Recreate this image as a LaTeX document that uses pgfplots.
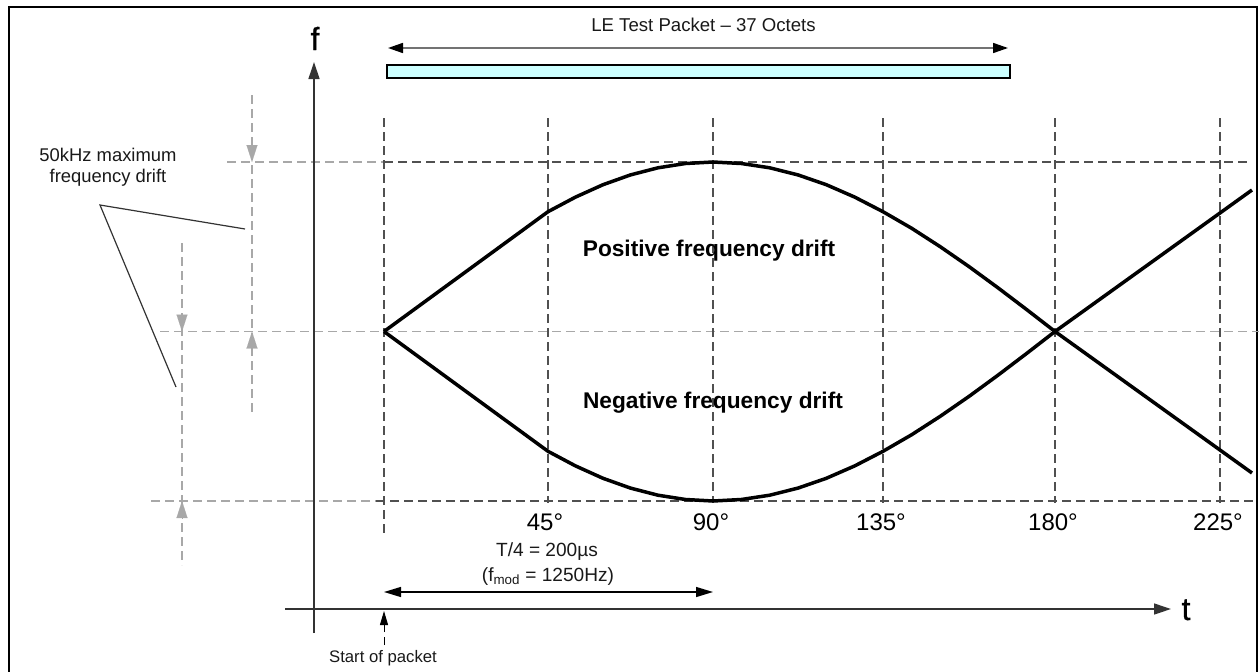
\documentclass[border=0pt]{standalone}
\usepackage{fontspec}
\setmainfont{Liberation Sans}
\newfontfamily\heavy[FakeBold=0.8]{Liberation Sans}
\usepackage{pgfplots}
\pgfplotsset{compat=1.18}
\usetikzlibrary{arrows.meta}
\definecolor{gridd}{HTML}{505050}
\definecolor{gridl}{HTML}{A8A8A8}
\definecolor{axc}{HTML}{333333}
\definecolor{pkt}{HTML}{CCFFFF}
\begin{document}
\begin{tikzpicture}
\useasboundingbox (0,0) rectangle (1259pt,672pt);
\begin{axis}[at={(0,0)}, anchor=south west, scale only axis,
  width=1259pt, height=672pt, xmin=0, xmax=1259, ymin=0, ymax=672,
  y dir=reverse, hide axis, clip=false]
% frame
\draw[line width=2pt, black] (axis cs:9,680) -- (axis cs:9,7) -- (axis cs:1257,7) -- (axis cs:1257,680);
% horizontal dashed reference lines
\tikzset{dl/.style={gridl, line width=1.4pt, dash pattern=on 9pt off 5pt},
         dd/.style={gridd, line width=1.4pt, dash pattern=on 9pt off 5pt}}
\draw[dl] (axis cs:227,162) -- (axis cs:384,162);
\draw[dd] (axis cs:384,162) -- (axis cs:1247,162);
\draw[dl] (axis cs:160,331.5) -- (axis cs:1259,331.5);
\draw[dl] (axis cs:151,501) -- (axis cs:376,501);
\draw[dd] (axis cs:376,501) -- (axis cs:1255,501);
% vertical gridlines
\draw[dd] (axis cs:384,118) -- (axis cs:384,535);
\draw[dd] (axis cs:548,118) -- (axis cs:548,503);
\draw[dd] (axis cs:713,118) -- (axis cs:713,503);
\draw[dd] (axis cs:883,118) -- (axis cs:883,503);
\draw[dd] (axis cs:1055,118) -- (axis cs:1055,503);
\draw[dd] (axis cs:1220,118) -- (axis cs:1220,503);
% left gray dimension lines
\draw[dl] (axis cs:252,95) -- (axis cs:252,412);
\draw[dl] (axis cs:182,243) -- (axis cs:182,565);
\tikzset{gh/.style={gridl, line width=0.1pt, -{Triangle[length=17pt,width=11pt]}}}
\draw[gh] (axis cs:252,145) -- (axis cs:252,162);
\draw[gh] (axis cs:252,348.5) -- (axis cs:252,331.5);
\draw[gh] (axis cs:182,314.5) -- (axis cs:182,331.5);
\draw[gh] (axis cs:182,518) -- (axis cs:182,501);
% leader lines
\draw[axc, line width=1.2pt] (axis cs:245,229) -- (axis cs:100,205) -- (axis cs:176,387);
\node[anchor=base, inner sep=0, font=\fontsize{18.4}{21}\selectfont, text=black!90] at (axis cs:108,161) {50kHz maximum};
\node[anchor=base, inner sep=0, font=\fontsize{18.4}{21}\selectfont, text=black!90] at (axis cs:108,182) {frequency drift};
% f axis
\draw[axc, line width=1.3pt, -{Triangle[length=17pt,width=11pt]}] (axis cs:314,633) -- (axis cs:314,62);
\node[anchor=base, inner sep=0, font=\heavy\fontsize{32}{36}\selectfont] at (axis cs:315,50) {f};
% t axis
\draw[axc, line width=1.3pt, -{Triangle[length=17pt,width=11pt]}] (axis cs:285,609) -- (axis cs:1171,609);
\node[anchor=base, inner sep=0, font=\heavy\fontsize{32}{36}\selectfont] at (axis cs:1186,620) {t};
% start of packet
\draw[black, line width=1pt, dash pattern=on 8pt off 5pt] (axis cs:384,645) -- (axis cs:384,625);
\draw[black, line width=1pt, -{Triangle[length=14pt,width=8pt]}] (axis cs:384,626) -- (axis cs:384,611);
\node[anchor=base, inner sep=0, font=\fontsize{16.7}{20}\selectfont, text=black!90] at (axis cs:383,662.7) {Start of packet};
% T/4 arrow
\draw[black, line width=1.3pt, {Triangle[length=17pt,width=10pt]}-{Triangle[length=17pt,width=10pt]}] (axis cs:384,592) -- (axis cs:713,592);
\node[anchor=base, inner sep=0, font=\fontsize{19.1}{22}\selectfont, text=black!90] at (axis cs:547,556) {T/4 = 200µs};
\node[anchor=base, inner sep=0, font=\fontsize{19.1}{22}\selectfont, text=black!90] at (axis cs:548,581.7) {(f\textsubscript{mod} = 1250Hz)};
% degree labels
\node[anchor=base, inner sep=0, font=\fontsize{24}{28}\selectfont] at (axis cs:545,530.7) {45°};
\node[anchor=base, inner sep=0, font=\fontsize{24}{28}\selectfont] at (axis cs:711,530.7) {90°};
\node[anchor=base, inner sep=0, font=\fontsize{24}{28}\selectfont] at (axis cs:881,530.7) {135°};
\node[anchor=base, inner sep=0, font=\fontsize{24}{28}\selectfont] at (axis cs:1053,530.7) {180°};
\node[anchor=base, inner sep=0, font=\fontsize{24}{28}\selectfont] at (axis cs:1218,530.7) {225°};
% packet arrow and bar
\draw[gridd!80, line width=1.6pt, {Triangle[length=15pt,width=10pt,fill=black,color=black]}-{Triangle[length=15pt,width=10pt,fill=black,color=black]}] (axis cs:388,48) -- (axis cs:1008,48);
\node[anchor=base, inner sep=0, font=\fontsize{18.6}{22}\selectfont, text=black!90] at (axis cs:703.5,31.3) {LE Test Packet – 37 Octets};
\draw[black, line width=1.6pt, fill=pkt] (axis cs:387,65) rectangle (axis cs:1010,78);
% drift curves
\addplot[black, line width=3.5pt, line join=round] coordinates {
 (384,331.5) (466,271.6) (548,211.7) (575.5,197.1) (603,184.7) (630.5,174.9)
 (658,167.8) (685.5,163.5) (713,162) (741.3,163.5) (769.7,167.8) (798,174.9)
 (826.3,184.7) (854.7,197.1) (883,211.7) (911.7,228.3) (940.3,246.75) (969,266.6)
 (997.7,287.6) (1026.3,309.3) (1055,331.5) (1252,473)};
\addplot[black, line width=3.5pt, line join=round] coordinates {
 (384,331.5) (466,391.4) (548,451.3) (575.5,465.9) (603,478.3) (630.5,488.1)
 (658,495.2) (685.5,499.5) (713,501) (741.3,499.5) (769.7,495.2) (798,488.1)
 (826.3,478.3) (854.7,465.9) (883,451.3) (911.7,434.7) (940.3,416.25) (969,396.4)
 (997.7,375.4) (1026.3,353.7) (1055,331.5) (1252,190)};
% labels in plot
\node[anchor=base, inner sep=0, font=\fontsize{22.7}{26}\selectfont\bfseries] at (axis cs:709,256) {Positive frequency drift};
\node[anchor=base, inner sep=0, font=\fontsize{22.7}{26}\selectfont\bfseries] at (axis cs:713,408) {Negative frequency drift};
\end{axis}
\end{tikzpicture}
\end{document}
